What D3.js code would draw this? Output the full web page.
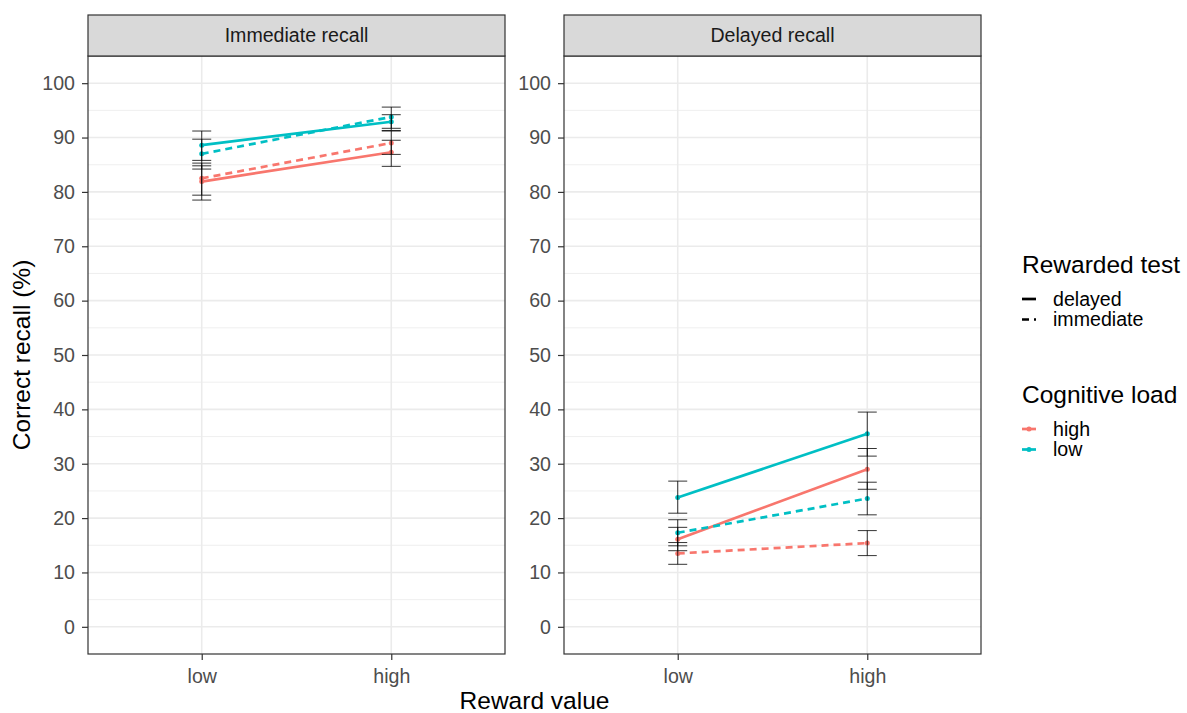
<!DOCTYPE html>
<html>
<head>
<meta charset="utf-8">
<script src="https://cdn.jsdelivr.net/npm/d3@7"></script>
<style>
  body { margin: 0; background: #fff; }
  svg { display: block; font-family: "Liberation Sans", Arial, sans-serif; }
</style>
</head>
<body>
<svg id="chart" width="1187" height="713"></svg>
<script>
// ---------------- DATA ----------------
const panels = ["Immediate recall", "Delayed recall"];
const rewardLevels = ["low", "high"];
const loadLevels = ["high", "low"];
const rewardedTests = ["delayed", "immediate"];
const yTicks = [0, 10, 20, 30, 40, 50, 60, 70, 80, 90, 100];

// Immediate recall panel: [low reward, high reward]
const imm_highLoad_delayed_mean = [81.9, 87.3];
const imm_highLoad_delayed_lo   = [78.5, 84.7];
const imm_highLoad_delayed_hi   = [84.8, 89.5];
const imm_highLoad_immediate_mean = [82.5, 89.0];
const imm_highLoad_immediate_lo   = [79.4, 86.9];
const imm_highLoad_immediate_hi   = [85.3, 91.2];
const imm_lowLoad_delayed_mean = [88.6, 92.9];
const imm_lowLoad_delayed_lo   = [85.8, 91.3];
const imm_lowLoad_delayed_hi   = [91.2, 94.2];
const imm_lowLoad_immediate_mean = [87.0, 93.8];
const imm_lowLoad_immediate_lo   = [84.2, 91.7];
const imm_lowLoad_immediate_hi   = [89.7, 95.6];

// Delayed recall panel
const del_highLoad_delayed_mean = [16.1, 29.0];
const del_highLoad_delayed_lo   = [14.0, 25.3];
const del_highLoad_delayed_hi   = [18.3, 32.8];
const del_highLoad_immediate_mean = [13.5, 15.4];
const del_highLoad_immediate_lo   = [11.5, 13.1];
const del_highLoad_immediate_hi   = [15.5, 17.7];
const del_lowLoad_delayed_mean = [23.8, 35.5];
const del_lowLoad_delayed_lo   = [20.9, 31.4];
const del_lowLoad_delayed_hi   = [26.8, 39.5];
const del_lowLoad_immediate_mean = [17.3, 23.6];
const del_lowLoad_immediate_lo   = [14.9, 20.6];
const del_lowLoad_immediate_hi   = [19.7, 26.6];

const series = [
  {panel: panels[0], load: "high", test: "delayed",   mean: imm_highLoad_delayed_mean,   lo: imm_highLoad_delayed_lo,   hi: imm_highLoad_delayed_hi},
  {panel: panels[0], load: "high", test: "immediate", mean: imm_highLoad_immediate_mean, lo: imm_highLoad_immediate_lo, hi: imm_highLoad_immediate_hi},
  {panel: panels[0], load: "low",  test: "delayed",   mean: imm_lowLoad_delayed_mean,    lo: imm_lowLoad_delayed_lo,    hi: imm_lowLoad_delayed_hi},
  {panel: panels[0], load: "low",  test: "immediate", mean: imm_lowLoad_immediate_mean,  lo: imm_lowLoad_immediate_lo,  hi: imm_lowLoad_immediate_hi},
  {panel: panels[1], load: "high", test: "delayed",   mean: del_highLoad_delayed_mean,   lo: del_highLoad_delayed_lo,   hi: del_highLoad_delayed_hi},
  {panel: panels[1], load: "high", test: "immediate", mean: del_highLoad_immediate_mean, lo: del_highLoad_immediate_lo, hi: del_highLoad_immediate_hi},
  {panel: panels[1], load: "low",  test: "delayed",   mean: del_lowLoad_delayed_mean,    lo: del_lowLoad_delayed_lo,    hi: del_lowLoad_delayed_hi},
  {panel: panels[1], load: "low",  test: "immediate", mean: del_lowLoad_immediate_mean,  lo: del_lowLoad_immediate_lo,  hi: del_lowLoad_immediate_hi}
];

// ---------------- STYLE / LAYOUT ----------------
const colors = {high: "#F8766D", low: "#00BFC4"};
const dash = {delayed: null, immediate: "7,5"};
const panelX = [88, 564];
const panelW = 417;
const panelTop = 56, panelBottom = 654;
const stripTop = 15;
const textSize = 19.6, titleSize = 24.5;
const lineW = 2.7;

const svg = d3.select("#chart");

const y = d3.scaleLinear().domain([-5, 105]).range([panelBottom, panelTop]);
const minorTicks = d3.range(-5, 106, 10);

panels.forEach((p, pi) => {
  const x0 = panelX[pi];
  const x = d3.scalePoint().domain(rewardLevels).range([x0, x0 + panelW]).padding(0.6);
  const g = svg.append("g");

  // grid
  g.selectAll(".minor").data(minorTicks.filter(v => v > -5 && v < 105)).join("line")
    .attr("x1", x0).attr("x2", x0 + panelW)
    .attr("y1", d => y(d)).attr("y2", d => y(d))
    .attr("stroke", "#ebebeb").attr("stroke-width", 0.8);
  g.selectAll(".major").data(yTicks).join("line")
    .attr("x1", x0).attr("x2", x0 + panelW)
    .attr("y1", d => y(d)).attr("y2", d => y(d))
    .attr("stroke", "#ebebeb").attr("stroke-width", 1.6);
  g.selectAll(".vmajor").data(rewardLevels).join("line")
    .attr("x1", d => x(d)).attr("x2", d => x(d))
    .attr("y1", panelTop).attr("y2", panelBottom)
    .attr("stroke", "#ebebeb").attr("stroke-width", 1.6);

  // data lines
  const ser = series.filter(s => s.panel === p);
  const line = d3.line().x((d, i) => x(rewardLevels[i])).y(d => y(d));
  ser.forEach(s => {
    g.append("path").attr("d", line(s.mean))
      .attr("fill", "none").attr("stroke", colors[s.load])
      .attr("stroke-width", lineW)
      .attr("stroke-dasharray", dash[s.test]);
  });
  ser.forEach(s => {
    s.mean.forEach((v, i) => {
      g.append("circle").attr("cx", x(rewardLevels[i])).attr("cy", y(v))
        .attr("r", 2.5).attr("fill", colors[s.load]);
    });
  });
  // error bars
  const cap = 9.5;
  ser.forEach(s => {
    s.mean.forEach((v, i) => {
      const cx = x(rewardLevels[i]);
      const eb = g.append("g").attr("stroke", "#000").attr("stroke-width", 0.8);
      eb.append("line").attr("x1", cx).attr("x2", cx).attr("y1", y(s.lo[i])).attr("y2", y(s.hi[i]));
      eb.append("line").attr("x1", cx - cap).attr("x2", cx + cap).attr("y1", y(s.lo[i])).attr("y2", y(s.lo[i]));
      eb.append("line").attr("x1", cx - cap).attr("x2", cx + cap).attr("y1", y(s.hi[i])).attr("y2", y(s.hi[i]));
    });
  });

  // panel border
  g.append("rect").attr("x", x0).attr("y", panelTop).attr("width", panelW).attr("height", panelBottom - panelTop)
    .attr("fill", "none").attr("stroke", "#333333").attr("stroke-width", 1.2);

  // strip
  g.append("rect").attr("x", x0).attr("y", stripTop).attr("width", panelW).attr("height", panelTop - stripTop)
    .attr("fill", "#d9d9d9").attr("stroke", "#333333").attr("stroke-width", 1.2);
  g.append("text").attr("x", x0 + panelW / 2).attr("y", (stripTop + panelTop) / 2)
    .attr("dy", "0.35em").attr("text-anchor", "middle")
    .attr("font-size", textSize).attr("fill", "#1a1a1a").text(p);

  // y axis
  const yAxis = d3.axisLeft(y).tickValues(yTicks).tickSize(6).tickPadding(7);
  const ya = g.append("g").attr("transform", `translate(${x0},0)`).call(yAxis);
  ya.select(".domain").remove();
  ya.selectAll(".tick line").attr("stroke", "#333333").attr("stroke-width", 1.2);
  ya.selectAll(".tick text").attr("font-size", textSize).attr("fill", "#4d4d4d")
    .attr("font-family", "Liberation Sans, Arial, sans-serif");

  // x axis
  const xAxis = d3.axisBottom(x).tickSize(6).tickPadding(9);
  const xa = g.append("g").attr("transform", `translate(0,${panelBottom})`).call(xAxis);
  xa.select(".domain").remove();
  xa.selectAll(".tick line").attr("stroke", "#333333").attr("stroke-width", 1.2);
  xa.selectAll(".tick text").attr("font-size", textSize).attr("fill", "#4d4d4d")
    .attr("font-family", "Liberation Sans, Arial, sans-serif");
});

// axis titles
svg.append("text").attr("x", (panelX[0] + panelX[1] + panelW) / 2).attr("y", 709)
  .attr("text-anchor", "middle").attr("font-size", titleSize).attr("fill", "#000").text("Reward value");
svg.append("text").attr("transform", `translate(30,${(panelTop + panelBottom) / 2}) rotate(-90)`)
  .attr("text-anchor", "middle").attr("font-size", titleSize).attr("fill", "#000").text("Correct recall (%)");

// legends
const lx = 1022, ltx = 1053;
const leg1 = svg.append("g");
leg1.append("text").attr("x", lx).attr("y", 273).attr("font-size", titleSize).text("Rewarded test");
rewardedTests.forEach((t, i) => {
  const cy = 299 + i * 20.5;
  leg1.append("line").attr("x1", lx).attr("x2", lx + 14).attr("y1", cy).attr("y2", cy)
    .attr("stroke", "#000").attr("stroke-width", lineW).attr("stroke-dasharray", dash[t]);
  leg1.append("text").attr("x", ltx).attr("y", cy).attr("dy", "0.35em").attr("font-size", textSize).text(t);
});
const leg2 = svg.append("g");
leg2.append("text").attr("x", lx).attr("y", 403).attr("font-size", titleSize).text("Cognitive load");
loadLevels.forEach((l, i) => {
  const cy = 429 + i * 20.5;
  leg2.append("line").attr("x1", lx).attr("x2", lx + 14).attr("y1", cy).attr("y2", cy)
    .attr("stroke", colors[l]).attr("stroke-width", lineW);
  leg2.append("circle").attr("cx", lx + 7).attr("cy", cy).attr("r", 2.5).attr("fill", colors[l]);
  leg2.append("text").attr("x", ltx).attr("y", cy).attr("dy", "0.35em").attr("font-size", textSize).text(l);
});
</script>
</body>
</html>
